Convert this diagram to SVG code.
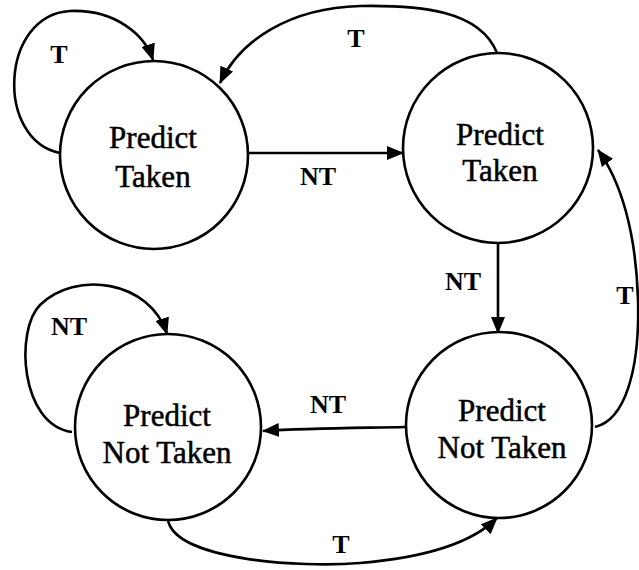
<svg xmlns="http://www.w3.org/2000/svg" width="639" height="570" viewBox="0 0 639 570">
<style>
.node circle{fill:#fff;stroke:#000;stroke-width:2.6}
.node text{font-family:'Liberation Serif','Times New Roman',serif;font-size:31px;text-anchor:middle;fill:#000;stroke:#000;stroke-width:0.5}
.edges path{fill:none;stroke:#000;stroke-width:2.6;marker-end:url(#ah)}
.lbl{font-family:'Liberation Serif','Times New Roman',serif;font-size:26px;font-weight:bold;text-anchor:middle;fill:#000}
</style>
<defs>
<marker id="ah" markerWidth="18" markerHeight="14" refX="16" refY="7" orient="auto" markerUnits="userSpaceOnUse">
<path d="M0,0 L17,7 L0,14 Z" fill="#000"/>
</marker>
</defs>
<rect width="639" height="570" fill="#fff"/>
<g class="edges">
<path d="M60,153 C-5,140 0,15 70,11 C115,9 145,35 153,60"/>
<path d="M497,53 C480,10 420,5 360,6 C290,8 240,40 220,83"/>
<path d="M248,153 L403,153"/>
<path d="M498,243 L498,333"/>
<path d="M595,427 C625,420 640,370 638,300 C636,230 620,180 598,150"/>
<path d="M405,427 C360,428 310,428 263,431"/>
<path d="M168,520 C175,560 300,568 360,563 C420,558 470,545 497,518"/>
<path d="M72,432 C20,425 15,330 40,305 C75,270 150,280 167,334"/>
</g>
<g id="n1" class="node"><circle cx="154" cy="155" r="94"/><text x="153" y="148">Predict</text><text x="153" y="187">Taken</text></g>
<g id="n2" class="node"><circle cx="498" cy="148" r="95"/><text x="500" y="145">Predict</text><text x="500" y="181">Taken</text></g>
<g id="n3" class="node"><circle cx="499" cy="425" r="93"/><text x="502" y="421">Predict</text><text x="502" y="458">Not Taken</text></g>
<g id="n4" class="node"><circle cx="168" cy="427" r="93"/><text x="167" y="426">Predict</text><text x="167" y="463">Not Taken</text></g>
<g id="labels">
<text class="lbl" x="59" y="63">T</text>
<text class="lbl" x="356" y="47">T</text>
<text class="lbl" x="318" y="185">NT</text>
<text class="lbl" x="463" y="290">NT</text>
<text class="lbl" x="625" y="304">T</text>
<text class="lbl" x="328" y="413">NT</text>
<text class="lbl" x="341" y="553">T</text>
<text class="lbl" x="69" y="335">NT</text>
</g>
</svg>
